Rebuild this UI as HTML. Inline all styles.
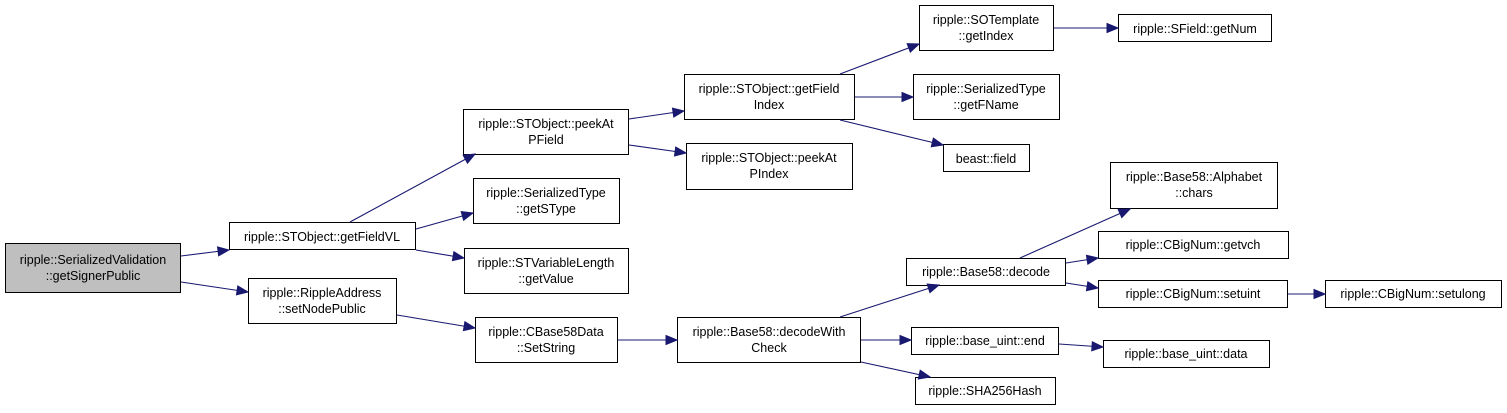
<!DOCTYPE html>
<html><head><meta charset="utf-8"><style>
html,body{margin:0;padding:0;background:#fff;}
svg{display:block}
text{font-family:"Liberation Sans",Helvetica,sans-serif;font-size:12.5px;fill:#000;text-anchor:middle}
.b{fill:#fff;stroke:#000;stroke-width:1}
.e line{stroke:#191970;stroke-width:1.1}
</style></head><body>
<svg id="s" width="1507" height="413" viewBox="0 0 1507 413" xmlns="http://www.w3.org/2000/svg">
<rect x="5.5" y="243.5" width="175" height="49" fill="#bfbfbf" stroke="#000"/>
<text x="93" y="264">ripple::SerializedValidation</text><text x="93" y="280">::getSignerPublic</text>
<rect class="b" x="229.5" y="222.5" width="186" height="27"/><text x="322" y="241">ripple::STObject::getFieldVL</text>
<rect class="b" x="248.5" y="278.5" width="148" height="45"/><text x="322" y="297">ripple::RippleAddress</text><text x="322" y="313">::setNodePublic</text>
<rect class="b" x="463.5" y="109.5" width="165" height="45"/><text x="546" y="128">ripple::STObject::peekAt</text><text x="546" y="144">PField</text>
<rect class="b" x="473.5" y="178.5" width="146" height="45"/><text x="546" y="197">ripple::SerializedType</text><text x="546" y="213">::getSType</text>
<rect class="b" x="464.5" y="248.5" width="164" height="45"/><text x="546" y="267">ripple::STVariableLength</text><text x="546" y="283">::getValue</text>
<rect class="b" x="475.5" y="317.5" width="142" height="45"/><text x="546" y="336">ripple::CBase58Data</text><text x="546" y="352">::SetString</text>
<rect class="b" x="684.5" y="74.5" width="170" height="45"/><text x="769" y="93">ripple::STObject::getField</text><text x="769" y="109">Index</text>
<rect class="b" x="686.5" y="143.5" width="166" height="46"/><text x="769" y="162">ripple::STObject::peekAt</text><text x="769" y="178">PIndex</text>
<rect class="b" x="677.5" y="317.5" width="183" height="45"/><text x="769" y="336">ripple::Base58::decodeWith</text><text x="769" y="352">Check</text>
<rect class="b" x="919.5" y="5.5" width="134" height="45"/><text x="986" y="24">ripple::SOTemplate</text><text x="986" y="40">::getIndex</text>
<rect class="b" x="913.5" y="74.5" width="146" height="45"/><text x="986" y="93">ripple::SerializedType</text><text x="986" y="109">::getFName</text>
<rect class="b" x="943.5" y="144.5" width="86" height="27"/><text x="986" y="163">beast::field</text>
<rect class="b" x="906.5" y="258.5" width="159" height="27"/><text x="986" y="276">ripple::Base58::decode</text>
<rect class="b" x="911.5" y="327.5" width="147" height="27"/><text x="985" y="345">ripple::base_uint::end</text>
<rect class="b" x="915.5" y="377.5" width="140" height="27"/><text x="985" y="395">ripple::SHA256Hash</text>
<rect class="b" x="1118.5" y="14.5" width="153" height="27"/><text x="1195" y="33">ripple::SField::getNum</text>
<rect class="b" x="1110.5" y="162.5" width="167" height="46"/><text x="1194" y="181">ripple::Base58::Alphabet</text><text x="1194" y="197">::chars</text>
<rect class="b" x="1098.5" y="231.5" width="190" height="27"/><text x="1193" y="249">ripple::CBigNum::getvch</text>
<rect class="b" x="1098.5" y="280.5" width="189" height="27"/><text x="1193" y="298">ripple::CBigNum::setuint</text>
<rect class="b" x="1103.5" y="340.5" width="166" height="27"/><text x="1186" y="358">ripple::base_uint::data</text>
<rect class="b" x="1325.5" y="280.5" width="176" height="27"/><text x="1413" y="298">ripple::CBigNum::setulong</text>
<g class="e" id="edges">
<line x1="181" y1="256" x2="229" y2="250"/>
<line x1="181" y1="282" x2="248" y2="292"/>
<line x1="350" y1="222" x2="475" y2="154"/>
<line x1="416" y1="229" x2="473" y2="213"/>
<line x1="416" y1="250" x2="464" y2="258"/>
<line x1="397" y1="315" x2="475" y2="328"/>
<line x1="629" y1="119" x2="684" y2="111"/>
<line x1="629" y1="145" x2="686" y2="153"/>
<line x1="618" y1="340" x2="677" y2="340"/>
<line x1="840" y1="74" x2="919" y2="44"/>
<line x1="855" y1="97" x2="913" y2="97"/>
<line x1="840" y1="120" x2="943" y2="145"/>
<line x1="1054" y1="28" x2="1118" y2="28"/>
<line x1="840" y1="317" x2="939" y2="285"/>
<line x1="861" y1="340" x2="911" y2="340"/>
<line x1="861" y1="362" x2="930" y2="377"/>
<line x1="1020" y1="258" x2="1130" y2="209"/>
<line x1="1066" y1="263" x2="1098" y2="258"/>
<line x1="1066" y1="283" x2="1098" y2="288"/>
<line x1="1288" y1="294" x2="1325" y2="294"/>
<line x1="1059" y1="344" x2="1103" y2="347"/>
</g>
</svg>
<script>
(function(){
var g=document.getElementById('edges');var ls=g.querySelectorAll('line');
for(var i=0;i<ls.length;i++){var l=ls[i];
var x1=+l.getAttribute('x1'),y1=+l.getAttribute('y1'),x2=+l.getAttribute('x2'),y2=+l.getAttribute('y2');
var dx=x2-x1,dy=y2-y1,d=Math.sqrt(dx*dx+dy*dy),ux=dx/d,uy=dy/d,L=11,W=4.5;
var bx=x2-ux*L,by=y2-uy*L;
var p=document.createElementNS('http://www.w3.org/2000/svg','polygon');
p.setAttribute('points',x2+','+y2+' '+(bx-uy*W)+','+(by+ux*W)+' '+(bx+uy*W)+','+(by-ux*W));
p.setAttribute('fill','#191970');p.setAttribute('stroke','#191970');
g.appendChild(p);}
})();
</script>
</body></html>
